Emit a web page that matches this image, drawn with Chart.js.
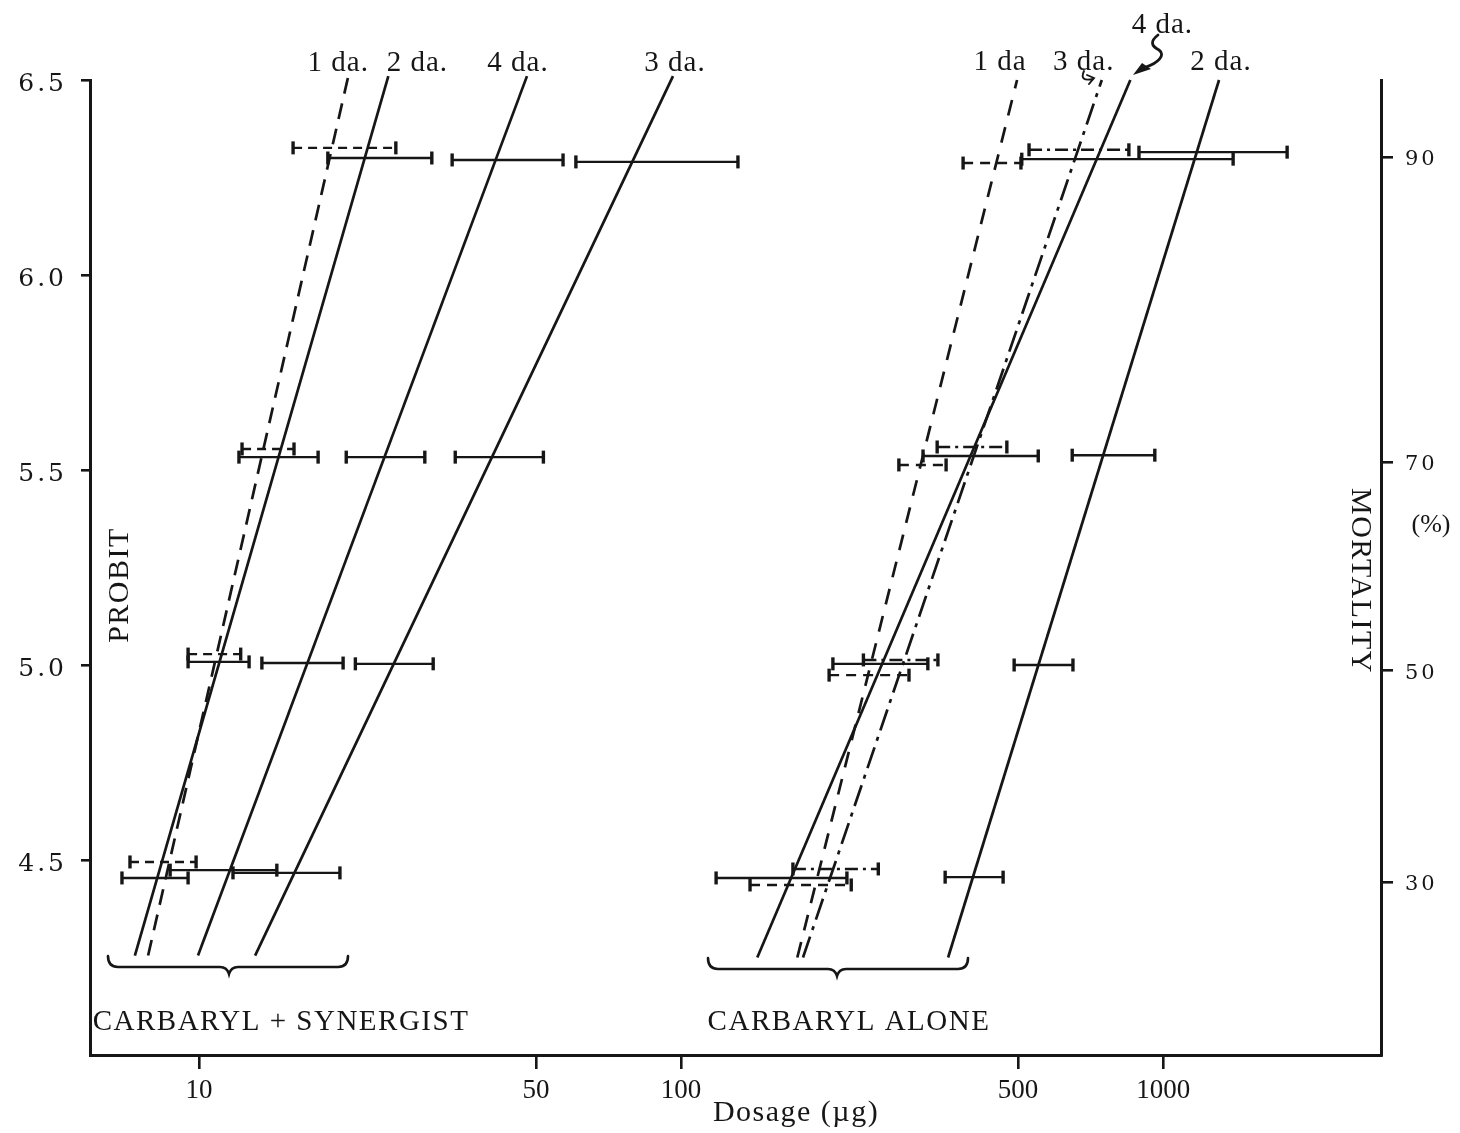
<!DOCTYPE html>
<html>
<head>
<meta charset="utf-8">
<title>Carbaryl probit lines</title>
<script src="https://cdn.jsdelivr.net/npm/chart.js@4.4.1/dist/chart.umd.min.js"></script>
<style>
  html, body { margin: 0; padding: 0; background: #fff; }
  #chart { display: block; }
</style>
</head>
<body>
<canvas id="chart" width="1460" height="1133"></canvas>
<script>
// axes
const probitTicks = [4.5, 5.0, 5.5, 6.0, 6.5];
const mortalityTicks = [30, 50, 70, 90];
const mortalityAt = [4.444, 4.987, 5.521, 6.303]; // probit where each % tick is drawn
const doseTicks = [10, 50, 100, 500, 1000];

// fitted lines, carbaryl + synergist (dose at bottom / top probit)
const synLabels = ['1 da.', '2 da.', '4 da.', '3 da.'];
const synDoseLow = [7.84, 7.36, 9.95, 13.07];
const synDoseHigh = [20.4, 24.7, 47.9, 96.2];
const synProbit = [4.255, 6.51];

// fitted lines, carbaryl alone
const alnLabels = ['1 da', '3 da.', '4 da.', '2 da.'];
const alnDoseLow = [174.2, 179, 143.9, 358];
const alnDoseHigh = [497.7, 746, 855, 1306];
const alnProbit = [4.25, 6.5];

// confidence limits: [probit, lower dose, upper dose]
const syn1da = [[6.326, 15.67, 25.6], [5.554, 12.28, 15.74], [5.028, 9.49, 12.2], [4.495, 7.19, 9.86]];
const syn2da = [[6.300, 18.5, 30.4], [5.533, 12.1, 17.66], [5.008, 9.49, 12.7], [4.454, 6.92, 9.49]];
const syn4da = [[6.295, 33.5, 56.9], [5.533, 20.2, 29.4], [5.005, 13.5, 19.9], [4.474, 8.71, 14.5]];
const syn3da = [[6.290, 60.5, 131.2], [5.533, 34.0, 51.8], [5.003, 21.1, 30.6], [4.467, 11.76, 19.6]];

const aln1da = [[6.287, 384.6, 507], [5.513, 283, 354.6], [4.974, 202.8, 297], [4.436, 139, 225.4]];
const aln3da = [[6.321, 527, 849], [5.559, 339.8, 474], [5.013, 238.9, 341], [4.477, 170.6, 256.5]];
const aln4da = [[6.297, 509, 1397], [5.536, 317.6, 550.7], [5.003, 206.5, 325], [4.454, 118.2, 220.8]];
const aln2da = [[6.315, 891, 1808], [5.538, 647.7, 961], [5.0, 490.8, 650], [4.456, 353, 465.6]];

const ink = '#161616';
const dashed = [16, 10];
const dashDot = [22, 7, 4, 7];

function lineSet(lo, hi, pr, dash) {
  return {
    data: [{x: lo, y: pr[0]}, {x: hi, y: pr[1]}],
    showLine: true,
    borderColor: ink,
    borderWidth: 2.7,
    borderDash: dash || [],
    pointRadius: 0,
    clip: false
  };
}

function barSet(rows, dash) {
  const pts = [];
  rows.forEach(r => {
    pts.push({x: r[1], y: r[0]}, {x: r[2], y: r[0]}, {x: r[2], y: null});
  });
  return {
    data: pts,
    showLine: true,
    spanGaps: false,
    borderColor: ink,
    borderWidth: 2.4,
    borderDash: dash || [],
    pointStyle: 'line',
    rotation: 90,
    pointRadius: 6.5,
    pointBorderWidth: 3.4,
    pointBorderColor: ink,
    clip: false
  };
}

const datasets = [
  lineSet(synDoseLow[0], synDoseHigh[0], synProbit, dashed),
  lineSet(synDoseLow[1], synDoseHigh[1], synProbit),
  lineSet(synDoseLow[2], synDoseHigh[2], synProbit),
  lineSet(synDoseLow[3], synDoseHigh[3], synProbit),
  lineSet(alnDoseLow[0], alnDoseHigh[0], alnProbit, [16, 12]),
  lineSet(alnDoseLow[1], alnDoseHigh[1], alnProbit, dashDot),
  lineSet(alnDoseLow[2], alnDoseHigh[2], alnProbit),
  lineSet(alnDoseLow[3], alnDoseHigh[3], alnProbit),
  barSet(syn1da, [9, 6]),
  barSet(syn2da),
  barSet(syn4da),
  barSet(syn3da),
  barSet(aln1da, [10, 7]),
  barSet(aln3da, [13, 5, 3, 5]),
  barSet(aln4da),
  barSet(aln2da)
];

function put(ctx, str, x, y, size, family, spacing, angle) {
  ctx.save();
  ctx.translate(x, y);
  if (angle) ctx.rotate(angle);
  ctx.font = size + 'px "' + family + '"';
  ctx.letterSpacing = spacing + 'px';
  ctx.textAlign = 'center';
  ctx.textBaseline = 'alphabetic';
  ctx.fillText(str, 0, 0);
  ctx.restore();
}

function brace(ctx, x1, x2, xm, y) {
  ctx.beginPath();
  ctx.moveTo(x1, y - 11);
  ctx.quadraticCurveTo(x1, y, x1 + 10, y);
  ctx.lineTo(xm - 9, y);
  ctx.quadraticCurveTo(xm - 2, y, xm, y + 7);
  ctx.quadraticCurveTo(xm + 2, y, xm + 9, y);
  ctx.lineTo(x2 - 10, y);
  ctx.quadraticCurveTo(x2, y, x2, y - 11);
  ctx.stroke();
}

// typewriter spacing on the probit / mortality numbers only
const spacing = {
  id: 'spacing',
  beforeDraw(chart) { chart.ctx.letterSpacing = '3px'; },
  beforeDatasetsDraw(chart) { chart.ctx.letterSpacing = '0px'; }
};

const notes = {
  id: 'notes',
  afterDraw(chart) {
    const ctx = chart.ctx;
    const x = chart.scales.x;
    ctx.save();
    ctx.fillStyle = ink;
    ctx.strokeStyle = ink;
    ctx.lineWidth = 2.4;
    ctx.lineCap = 'round';

    // line labels above the plot
    const synShift = [-10, 29, -9, 2];
    synLabels.forEach((t, i) => {
      put(ctx, t, x.getPixelForValue(synDoseHigh[i]) + synShift[i], 71, 29, 'Liberation Serif', 1);
    });
    const alnShift = [-17, -18, 32, 2];
    const alnBase = [70, 70, 33, 70];
    alnLabels.forEach((t, i) => {
      put(ctx, t, x.getPixelForValue(alnDoseHigh[i]) + alnShift[i], alnBase[i], 29, 'Liberation Serif', 1);
    });

    // squiggle from "4 da." down to its line
    ctx.lineWidth = 2.8;
    ctx.beginPath();
    ctx.moveTo(1158, 35);
    ctx.bezierCurveTo(1150, 41, 1151, 46, 1159, 50);
    ctx.bezierCurveTo(1166, 55, 1158, 63, 1146, 67);
    ctx.stroke();
    ctx.beginPath();
    ctx.moveTo(1133, 75);
    ctx.lineTo(1142, 63);
    ctx.lineTo(1151, 69);
    ctx.closePath();
    ctx.fill();

    // small hook under "3 da."
    ctx.lineWidth = 1.9;
    ctx.beginPath();
    ctx.moveTo(1084, 71);
    ctx.quadraticCurveTo(1079, 82, 1093, 79);
    ctx.moveTo(1087, 75);
    ctx.lineTo(1094, 78);
    ctx.lineTo(1089, 84);
    ctx.stroke();

    // group braces and names
    ctx.lineWidth = 2.6;
    brace(ctx, 108, 348, 229, 967);
    brace(ctx, 708, 968, 837, 969);
    put(ctx, 'CARBARYL + SYNERGIST', 281, 1030, 29, 'Liberation Serif', 1.5);
    put(ctx, 'CARBARYL ALONE', 849, 1030, 29, 'Liberation Serif', 1.5);

    // axis names
    put(ctx, 'PROBIT', 128, 585, 30, 'Liberation Serif', 1.5, -Math.PI / 2);
    put(ctx, 'MORTALITY', 1352, 581, 30, 'Liberation Serif', 1.5, Math.PI / 2);
    put(ctx, '(%)', 1431, 532, 26, 'Liberation Serif', 0);
    put(ctx, 'Dosage (\u00b5g)', 796, 1121, 30, 'Liberation Serif', 1.5);
    ctx.restore();
  }
};

const ctx = document.getElementById('chart').getContext('2d');

new Chart(ctx, {
  type: 'scatter',
  data: { datasets: datasets },
  options: {
    responsive: false,
    animation: false,
    devicePixelRatio: 1,
    layout: { autoPadding: false, padding: { top: 80, left: 0, right: 0, bottom: 0 } },
    plugins: {
      legend: { display: false },
      tooltip: { enabled: false }
    },
    scales: {
      x: {
        type: 'logarithmic',
        min: 5.94,
        max: 2831,
        bounds: 'data',
        position: 'bottom',
        afterBuildTicks: s => { s.ticks = doseTicks.map(v => ({ value: v })); },
        afterFit: s => { s.height = 78; },
        grid: { drawOnChartArea: false, tickLength: 14, color: ink, lineWidth: 2.6 },
        border: { display: true, color: ink, width: 3 },
        ticks: {
          z: 1,
          color: ink,
          padding: 6,
          maxRotation: 0,
          autoSkip: false,
          font: { family: 'Liberation Serif', size: 27 },
          callback: v => String(v)
        }
      },
      y: {
        min: 4.0,
        max: 6.5,
        position: 'left',
        afterBuildTicks: s => { s.ticks = probitTicks.map(v => ({ value: v })); },
        afterFit: s => { s.width = 90; },
        grid: { drawOnChartArea: false, tickLength: 9, color: ink, lineWidth: 2.6 },
        border: { display: true, color: ink, width: 3 },
        ticks: {
          color: ink,
          padding: 14,
          labelOffset: 4,
          font: { family: 'DejaVu Serif', size: 25 },
          callback: v => Number(v).toFixed(1)
        }
      },
      y2: {
        min: 4.0,
        max: 6.5,
        position: 'right',
        afterBuildTicks: s => { s.ticks = mortalityAt.map(v => ({ value: v })); },
        afterFit: s => { s.width = 79; },
        grid: { drawOnChartArea: false, tickLength: 12, color: ink, lineWidth: 2.6 },
        border: { display: true, color: ink, width: 3 },
        ticks: {
          color: ink,
          padding: 12,
          labelOffset: 3,
          font: { family: 'DejaVu Serif', size: 21 },
          callback: (v, i) => String(mortalityTicks[i])
        }
      }
    }
  },
  plugins: [spacing, notes]
});
</script>
</body>
</html>
